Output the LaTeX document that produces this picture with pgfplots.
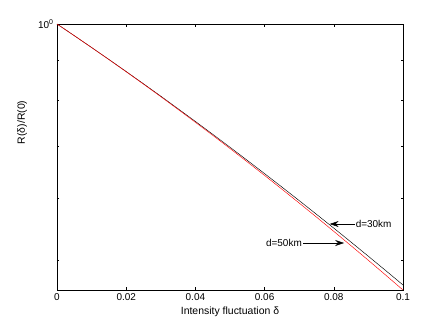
\documentclass[border=0pt]{standalone}
\usepackage{pgfplots}
\pgfplotsset{compat=1.18}
\usepackage{fontspec}
\setmainfont{Liberation Sans}
\usetikzlibrary{arrows.meta}
\begin{document}
\begin{tikzpicture}
\begin{axis}[
  scale only axis, width=346bp, height=266bp,
  xmin=0, xmax=0.1, ymode=log, ymin=0.4588, ymax=1,
  xtick={0,0.02,0.04,0.06,0.08,0.1},
  xticklabels={0,0.02,0.04,0.06,0.08,0.1},
  ytick={1}, yticklabels={10\textsuperscript{0}},
  minor ytick={0.5,0.6,0.7,0.8,0.9},
  tick align=inside, major tick length=3bp, minor tick length=2bp,
  tick style={black, line width=0.4pt},
  axis line style={line width=0.6pt},
  ticklabel style={font=\fontsize{10}{12}\selectfont},
  /pgf/number format/assume math mode=true,
  xlabel={Intensity fluctuation δ},
  ylabel={R(δ)/R(0)},
  label style={font=\fontsize{10.5}{12}\selectfont},
  ylabel style={at={(axis description cs:-0.101,0.63)}, anchor=center},
  clip=false,
]
\addplot[black, line width=0.45pt] coordinates {
(0,1) (0.005,0.96640) (0.010,0.93353) (0.015,0.901398) (0.020,0.870001)
(0.025,0.839339) (0.030,0.809413) (0.035,0.780220) (0.040,0.751762)
(0.045,0.724030) (0.050,0.697027) (0.055,0.670744) (0.060,0.645178)
(0.065,0.620322) (0.070,0.596171) (0.075,0.572713) (0.080,0.549947)
(0.085,0.527859) (0.090,0.506443) (0.095,0.485688) (0.100,0.465586)
};
\addplot[red, line width=0.45pt] coordinates {
(0,1) (0.005,0.96636) (0.010,0.93339) (0.015,0.901099) (0.020,0.869489)
(0.025,0.838566) (0.030,0.808340) (0.035,0.778813) (0.040,0.749992)
(0.045,0.721873) (0.050,0.694465) (0.055,0.667761) (0.060,0.641765)
(0.065,0.616472) (0.070,0.591881) (0.075,0.567986) (0.080,0.544785)
(0.085,0.522268) (0.090,0.500434) (0.095,0.479271) (0.100,0.458775)
};
\draw[line width=0.5pt, -{Stealth[length=9bp,width=6bp,inset=3bp]}] (axis cs:0.0860,0.5566) -- (axis cs:0.0788,0.5566);
\node[anchor=west, inner sep=1pt, font=\fontsize{10}{12}\selectfont] at (axis cs:0.0860,0.5566) {d=30km};
\draw[line width=0.5pt, -{Stealth[length=9bp,width=6bp,inset=3bp]}] (axis cs:0.0711,0.5265) -- (axis cs:0.0830,0.5265);
\node[anchor=east, inner sep=1pt, font=\fontsize{10}{12}\selectfont] at (axis cs:0.0711,0.5265) {d=50km};
\end{axis}
\path[use as bounding box] (current axis.south west) ++(-57bp,-38bp) rectangle ++(436bp,328bp);
\end{tikzpicture}
\end{document}
